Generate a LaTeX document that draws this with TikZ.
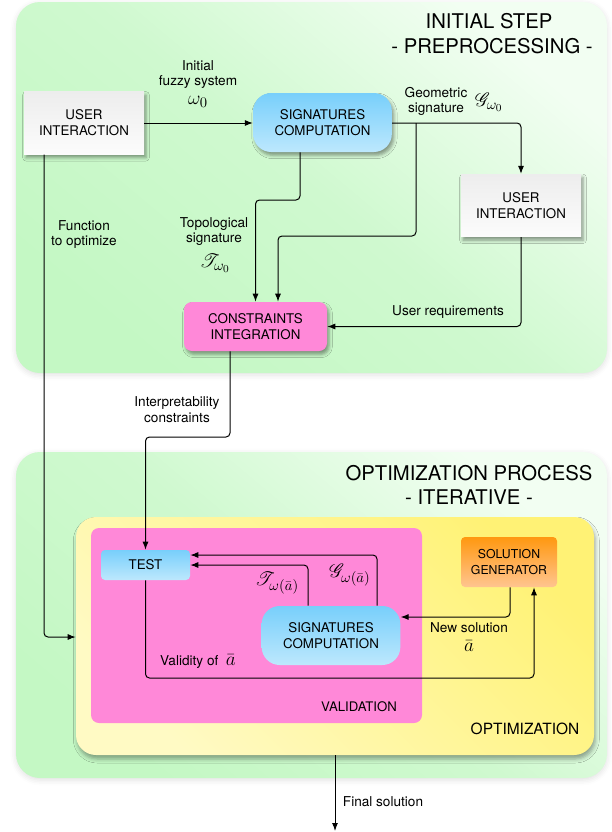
\documentclass[tikz,border=0pt]{standalone}
\usepackage[no-math]{fontspec}
\setmainfont{TeX Gyre Heros}
\usepackage{mathrsfs}
\usetikzlibrary{arrows.meta,shadows.blur,calc}

\definecolor{gT}{HTML}{F2FEF2}
\definecolor{gM}{HTML}{CFF9CF}
\definecolor{gB}{HTML}{C4F8C4}
\definecolor{yT}{HTML}{FFF275}
\definecolor{yB}{HTML}{FFFAC4}
\definecolor{pinkc}{HTML}{FF88D8}
\definecolor{bT}{HTML}{78CFFB}
\definecolor{bB}{HTML}{BDE8FD}
\definecolor{oT}{HTML}{FF9810}
\definecolor{oB}{HTML}{FFC590}
\definecolor{uT}{HTML}{EDEDED}
\definecolor{uB}{HTML}{FCFCFC}

\begin{document}
\begin{tikzpicture}[x=0.75pt,y=-0.75pt,
  panel/.style={rectangle, rounded corners=18pt, inner sep=0pt,
    top color=gT, bottom color=gB, middle color=gM, shading angle=-40,
    blur shadow={shadow xshift=0pt, shadow yshift=-1.5pt, shadow blur radius=4pt, shadow opacity=12}},
  optbox/.style={rectangle, rounded corners=15pt, inner sep=0pt,
    top color=yT, bottom color=yB, shading angle=-45,
    blur shadow={shadow xshift=1pt, shadow yshift=-3pt, shadow blur radius=3pt, shadow opacity=35}},
  valbox/.style={rectangle, rounded corners=6pt, inner sep=0pt, fill=pinkc},
  boxtxt/.style={font=\fontsize{10}{12}\selectfont, align=center, inner sep=0pt},
  userbox/.style={boxtxt, rectangle, top color=uT, bottom color=uB,
    minimum width=90pt, minimum height=47pt,
    blur shadow={shadow xshift=1.5pt, shadow yshift=-2.5pt, shadow blur radius=2.5pt, shadow opacity=40}},
  sigbox/.style={boxtxt, rectangle, rounded corners=13.5pt, top color=bT, bottom color=bB,
    minimum width=104pt, minimum height=44.25pt},
  sigshadow/.style={blur shadow={shadow xshift=1.5pt, shadow yshift=-2.5pt, shadow blur radius=2.5pt, shadow opacity=40}},
  consbox/.style={boxtxt, rectangle, rounded corners=6pt, fill=pinkc,
    minimum width=107.25pt, minimum height=36.75pt,
    blur shadow={shadow xshift=1.5pt, shadow yshift=-2.5pt, shadow blur radius=2.5pt, shadow opacity=40}},
  testbox/.style={boxtxt, rectangle, rounded corners=3pt, top color=bT, bottom color=bB,
    minimum width=66.75pt, minimum height=22.5pt},
  genbox/.style={boxtxt, rectangle, rounded corners=3pt, top color=oT, bottom color=oB,
    minimum width=72pt, minimum height=37.5pt, font=\fontsize{9.2}{11.5}\selectfont},
  lab/.style={font=\fontsize{10.2}{11.6}\selectfont, align=center, inner sep=0pt},
  mlab/.style={font=\fontsize{15.5}{16}\selectfont, inner sep=0pt},
  title/.style={font=\fontsize{15.2}{18}\selectfont, inner sep=0pt},
  arr/.style={draw, line width=0.75pt, rounded corners=3pt, -{Latex[length=6pt,width=4.5pt]}},
  ln/.style={draw, line width=0.75pt, rounded corners=3pt}
]
\useasboundingbox (0,0) rectangle (611,832);

% panels
\node[panel, minimum width=443.25pt, minimum height=278.25pt] (g1) at (311.5,187.5) {};
\node[panel, minimum width=443.25pt, minimum height=244.5pt] (g2) at (311.5,615) {};
\node[optbox, minimum width=388.5pt, minimum height=178.5pt] (opt) at (335,636) {};
\node[valbox, minimum width=248.25pt, minimum height=146.25pt] (val) at (256.5,625.5) {};

% titles
\node[title] (t1) at (489,21) {INITIAL STEP};
\node[title] (t2) at (492,46) {- PREPROCESSING -};
\node[title] (t3) at (469,473) {OPTIMIZATION PROCESS};
\node[title] (t4) at (469,497) {- ITERATIVE -};
\node[font=\fontsize{9.9}{12}\selectfont, inner sep=0pt] (vlab) at (359,707) {VALIDATION};
\node[font=\fontsize{11.6}{14}\selectfont, inner sep=0pt] (olab) at (525,729) {OPTIMIZATION};

% boxes
\node[userbox] (ui1) at (84,123) {USER\\INTERACTION};
\node[sigbox, sigshadow] (sc1) at (322.5,122.5) {SIGNATURES\\COMPUTATION};
\node[userbox] (ui2) at (521,205.5) {USER\\INTERACTION};
\node[consbox] (ci) at (255.5,326.5) {CONSTRAINTS\\INTEGRATION};
\node[testbox] (test) at (145.5,565) {TEST};
\node[genbox] (sg) at (509,562) {SOLUTION\\GENERATOR};
\node[sigbox] (sc2) at (331,635.5) {SIGNATURES\\COMPUTATION};

% helper coordinates
\coordinate (b1) at (416,123);
\coordinate (c2) at (278,236);
\coordinate (c3) at (300,200);
\coordinate (c4) at (230,437);
\coordinate (c5) at (44,637);
\coordinate (c6) at (534,678);
\coordinate (c7) at (510,617);
\coordinate (c8) at (377,555);
\coordinate (c9) at (308,565);
\coordinate (fin) at (335,831);

% connectors
\draw[arr] (ui1.east |- b1) -- (sc1.west |- b1);
\draw[arr] (sc1.east |- b1) -| (ui2.north);
\draw[arr] (b1) |- (c2) -- (c2 |- ci.north);
\draw[arr] (c3 |- sc1.south) -- (c3) -| (ci.north);
\draw[arr] (ui2.south) |- (ci.east);
\draw[arr] (c4 |- ci.south) -- (c4) -| (test.north);
\draw[arr] (c5 |- ui1.south) |- (opt.west |- c5);
\draw[arr] (test.south) |- (c6) -- (c6 |- sg.south);
\draw[arr] (c7 |- sg.south) |- (c7 -| sc2.east);
\draw[arr] (c8 |- sc2.north) |- (c8 -| test.east);
\draw[arr] (c9 |- sc2.north) |- (c9 -| test.east);
\draw[arr] (opt.south -| fin) -- (fin);

% labels
\node[lab] (linit) at (198,74.5) {Initial\\fuzzy system};
\node[mlab] (lw0) at (198,102) {$\omega_0$};
\node[lab] (lgeo) at (436,101.5) {Geometric\\signature};
\node[mlab] (lg0) at (489,102) {$\mathscr{G}_{\omega_0}$};
\node[lab] (ltopo) at (214,231.5) {Topological\\signature};
\node[mlab] (lt0) at (215,263) {$\mathscr{T}_{\omega_0}$};
\node[lab] (lfunc) at (84,234.5) {Function\\to optimize};
\node[lab] (lureq) at (448,312) {User requirements};
\node[lab] (linterp) at (177,409.5) {Interpretability\\constraints};
\node[mlab] (lta) at (277,583) {$\mathscr{T}_{\omega(\bar a)}$};
\node[mlab] (lga) at (350,575) {$\mathscr{G}_{\omega(\bar a)}$};
\node[lab] (lnew) at (469,628) {New solution};
\node[mlab] (lnewa) at (469,646) {$\bar a$};
\node[lab] (lvalid) at (198,662) {Validity of \ {\fontsize{15}{15}\selectfont$\bar a$}};
\node[lab] (lfinal) at (383,802) {Final solution};
\end{tikzpicture}
\end{document}
